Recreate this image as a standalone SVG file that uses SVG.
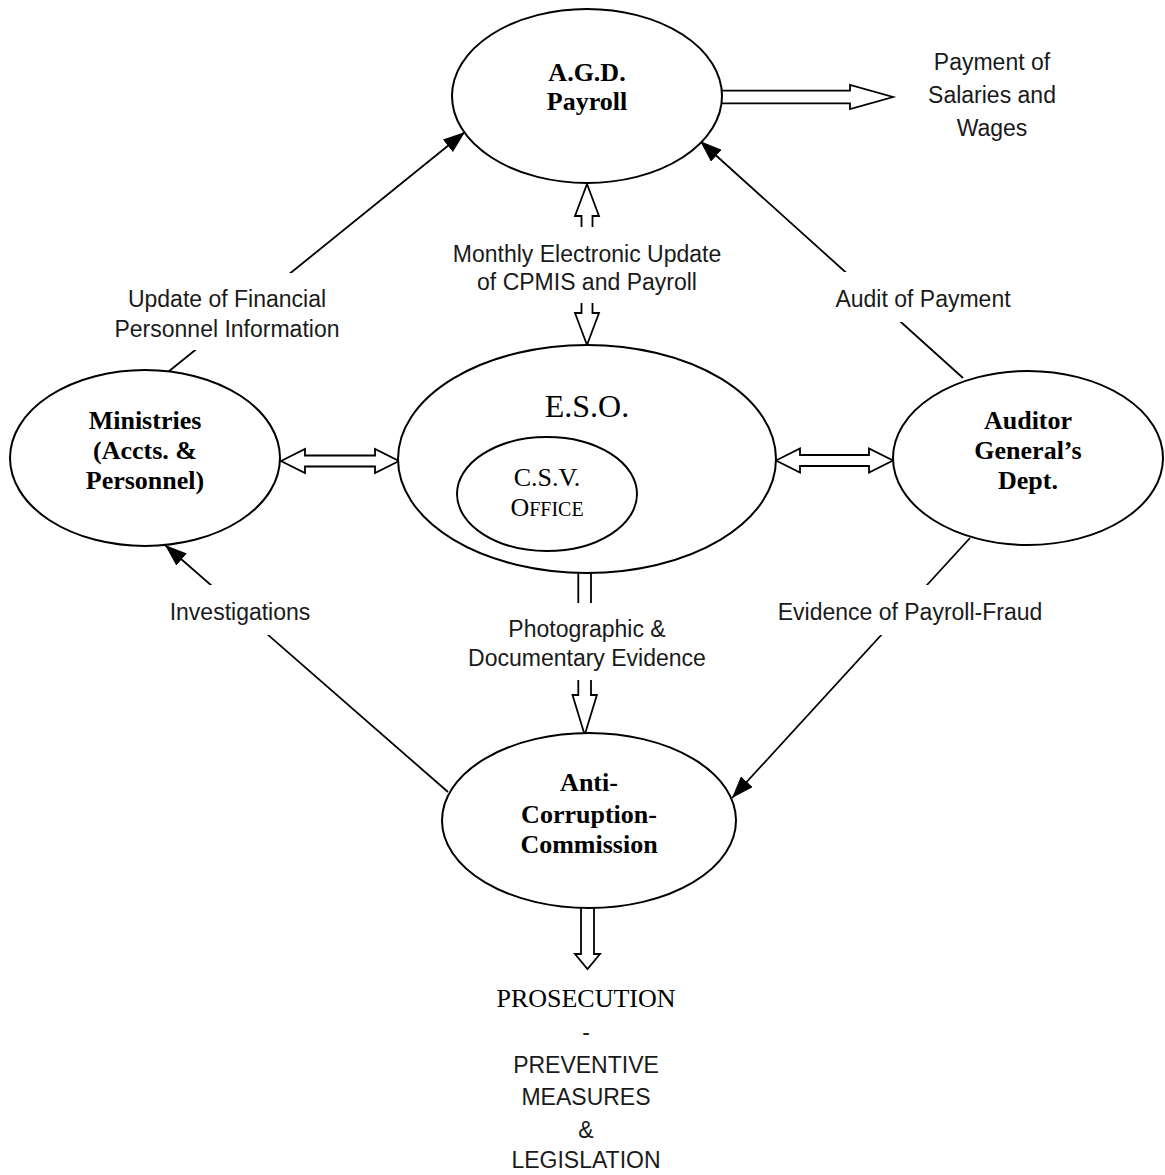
<svg xmlns="http://www.w3.org/2000/svg" width="1165" height="1175" viewBox="0 0 1165 1175">
<style>
.node{fill:#fff;stroke:#000;stroke-width:2}
.ln{stroke:#000;stroke-width:1.8;fill:none}
.blk{fill:#fff;stroke:#000;stroke-width:1.8;stroke-linejoin:miter}
.bg{fill:#fff;stroke:none}
.lbl{font-family:"Liberation Sans",Arial,sans-serif;font-size:23px;fill:#1a1a1a;text-anchor:middle}
.nb{font-family:"Liberation Serif","Times New Roman",serif;font-size:26px;font-weight:bold;fill:#000;text-anchor:middle}
.nr{font-family:"Liberation Serif","Times New Roman",serif;fill:#000;text-anchor:middle}
</style>
<defs>
<marker id="ah" viewBox="0 0 22 16" refX="22" refY="8" markerWidth="22" markerHeight="16" markerUnits="userSpaceOnUse" orient="auto">
<path d="M0,0 L22,8 L0,16 z" fill="#000"/>
</marker>
</defs>
<rect width="1165" height="1175" fill="#fff"/>
<g id="connectors">
<line class="ln" x1="168" y1="372" x2="465" y2="132" marker-end="url(#ah)"/>
<line class="ln" x1="963" y1="378" x2="700" y2="141" marker-end="url(#ah)"/>
<line class="ln" x1="448" y1="792" x2="165" y2="545" marker-end="url(#ah)"/>
<line class="ln" x1="970" y1="538" x2="732" y2="798" marker-end="url(#ah)"/>
<path class="blk" d="M722,90.7 H850 V85 L893,97 L850,109 V103.3 H722"/>
<polygon class="blk" points="281,461 305,449 305,455.5 375,455.5 375,449 399,461 375,473 375,466.5 305,466.5 305,473"/>
<polygon class="blk" points="776,460.5 800,448.5 800,455 869,455 869,448.5 893,460.5 869,472.5 869,466 800,466 800,472.5"/>
<polygon class="blk" points="587,184 599,216 592.5,216 592.5,313 599,313 587,345 575,313 581.5,313 581.5,216 575,216"/>
<path class="blk" d="M578.3,572 V695 H572.5 L584.7,735 L596.9,695 H591 V572"/>
<path class="blk" d="M581,906 V954 H575 L587.5,969 L600,954 H594 V906"/>
<rect class="bg" x="105" y="273" width="245" height="77"/>
<rect class="bg" x="820" y="272" width="200" height="50"/>
<rect class="bg" x="160" y="585" width="160" height="50"/>
<rect class="bg" x="770" y="585" width="280" height="50"/>
<rect class="bg" x="440" y="227" width="295" height="76"/>
<rect class="bg" x="460" y="603" width="255" height="77"/>
<text class="lbl" x="227" y="307">Update of Financial</text>
<text class="lbl" x="227" y="337">Personnel Information</text>
<text class="lbl" x="587" y="262">Monthly Electronic Update</text>
<text class="lbl" x="587" y="290">of CPMIS and Payroll</text>
<text class="lbl" x="923" y="307">Audit of Payment</text>
<text class="lbl" x="240" y="620">Investigations</text>
<text class="lbl" x="587" y="637">Photographic &amp;</text>
<text class="lbl" x="587" y="666">Documentary Evidence</text>
<text class="lbl" x="910" y="620">Evidence of Payroll-Fraud</text>
<text class="lbl" x="992" y="70">Payment of</text>
<text class="lbl" x="992" y="103">Salaries and</text>
<text class="lbl" x="992" y="136">Wages</text>
<text class="nr" x="586" y="1007" font-size="26">PROSECUTION</text>
<text class="lbl" x="586" y="1040">-</text>
<text class="lbl" x="586" y="1073">PREVENTIVE</text>
<text class="lbl" x="586" y="1105">MEASURES</text>
<text class="lbl" x="586" y="1138">&amp;</text>
<text class="lbl" x="586" y="1168">LEGISLATION</text>
</g>
<g id="agd">
<ellipse class="node" cx="587" cy="96" rx="135" ry="87"/>
<text class="nb" x="587" y="81">A.G.D.</text>
<text class="nb" x="587" y="110">Payroll</text>
</g>
<g id="ministries">
<ellipse class="node" cx="145" cy="458" rx="135" ry="88"/>
<text class="nb" x="145" y="429">Ministries</text>
<text class="nb" x="145" y="459">(Accts. &amp;</text>
<text class="nb" x="145" y="489">Personnel)</text>
</g>
<g id="eso">
<ellipse class="node" cx="587" cy="459" rx="189" ry="114"/>
<text class="nr" x="587" y="417" font-size="32">E.S.O.</text>
</g>
<g id="csv">
<ellipse class="node" cx="547" cy="494" rx="90" ry="57"/>
<text class="nr" x="547" y="486" font-size="26">C.S.V.</text>
<text class="nr" x="547" y="516" font-size="26">O<tspan font-size="20">FFICE</tspan></text>
</g>
<g id="auditor">
<ellipse class="node" cx="1028" cy="458" rx="135" ry="87"/>
<text class="nb" x="1028" y="429">Auditor</text>
<text class="nb" x="1028" y="459">General’s</text>
<text class="nb" x="1028" y="489">Dept.</text>
</g>
<g id="acc">
<ellipse class="node" cx="589" cy="820.5" rx="147" ry="87.5"/>
<text class="nb" x="589" y="791">Anti-</text>
<text class="nb" x="589" y="823">Corruption-</text>
<text class="nb" x="589" y="853">Commission</text>
</g>
</svg>
